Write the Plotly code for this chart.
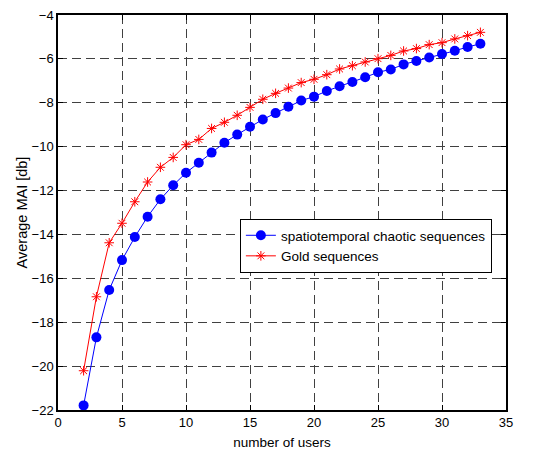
import plotly.graph_objects as go

users = list(range(2, 34))
chaotic = [-21.79, -18.69, -16.53, -15.17, -14.12, -13.19, -12.40, -11.76, -11.19, -10.73,
           -10.27, -9.82, -9.45, -9.09, -8.76, -8.47, -8.18, -7.90, -7.72, -7.46,
           -7.25, -7.05, -6.84, -6.61, -6.48, -6.25, -6.10, -5.94, -5.78, -5.63,
           -5.46, -5.31]
gold = [-20.21, -16.84, -14.38, -13.49, -12.51, -11.61, -10.94, -10.49, -9.91, -9.67,
        -9.17, -8.89, -8.57, -8.21, -7.84, -7.57, -7.33, -7.08, -6.93, -6.72,
        -6.46, -6.31, -6.14, -5.99, -5.84, -5.64, -5.53, -5.35, -5.26, -5.09,
        -4.94, -4.79]

x_ticks = [0, 5, 10, 15, 20, 25, 30, 35]
y_ticks = [-22, -20, -18, -16, -14, -12, -10, -8, -6, -4]

FONT = "Liberation Sans, Arial, sans-serif"

fig = go.Figure()
fig.add_trace(go.Scatter(
    x=users, y=chaotic, mode="lines+markers",
    name="spatiotemporal chaotic sequences",
    line=dict(color="#0000ff", width=1),
    marker=dict(symbol="circle", size=10, color="#0000ff"),
))
fig.add_trace(go.Scatter(
    x=users, y=gold, mode="lines+markers",
    name="Gold sequences",
    line=dict(color="#ff0000", width=1),
    marker=dict(symbol="asterisk-open", size=8, color="#ff0000",
                line=dict(color="#ff0000", width=1)),
))

axis_common = dict(
    showline=True, linecolor="black", linewidth=1.5, mirror="ticks",
    ticks="inside", ticklen=5, tickcolor="black",
    showgrid=True, gridcolor="#404040", griddash="9px,5px", gridwidth=1,
    zeroline=False, automargin=False,
    tickfont=dict(family=FONT, size=13, color="black"),
)

fig.update_xaxes(range=[0, 35], tickvals=x_ticks, **axis_common,
                 title=dict(text="number of users", standoff=8,
                            font=dict(family=FONT, size=13.5, color="black")))
fig.update_yaxes(range=[-22, -4], tickvals=y_ticks, **axis_common,
                 title=dict(text="Average MAI [db]", standoff=1,
                            font=dict(family=FONT, size=14.5, color="black")))

fig.update_layout(
    width=546, height=450,
    margin=dict(l=58, r=40, t=15, b=40),
    plot_bgcolor="white", paper_bgcolor="white",
    font=dict(family=FONT, size=13, color="black"),
    legend=dict(x=0.406, y=0.4835, xanchor="left", yanchor="top",
                bgcolor="white", bordercolor="black", borderwidth=1,
                font=dict(size=13.5), tracegroupgap=0, itemwidth=30),
    showlegend=True,
)

fig.write_html("out.html")
